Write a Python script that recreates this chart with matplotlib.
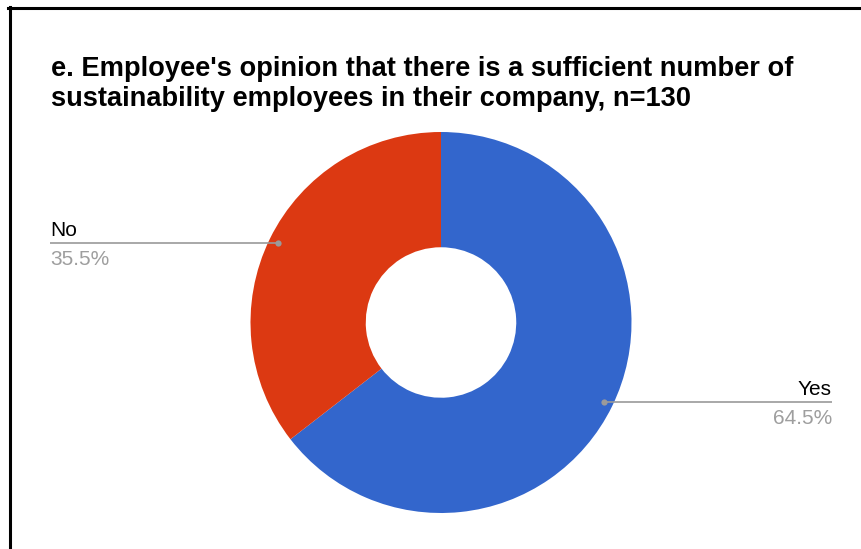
import numpy as np
import matplotlib
matplotlib.use("Agg")
import matplotlib.pyplot as plt
from matplotlib.lines import Line2D

# Survey answers
categories = ["Yes", "No"]
shares = [64.5, 35.5]
colors = ["#3366CC", "#DC3912"]
title = ("e. Employee's opinion that there is a sufficient number of\n"
         "sustainability employees in their company, n=130")

W, H = 861, 549
fig = plt.figure(figsize=(W / 100, H / 100), dpi=100)
fig.patch.set_facecolor("white")

# Axes spanning the whole figure, one data unit per pixel
ax = fig.add_axes([0, 0, 1, 1])
cx, cy, r = 441, H - 322.5, 190.5
wedges, _ = ax.pie(shares, colors=colors, startangle=90, counterclock=False,
                   center=(cx, cy), radius=r,
                   wedgeprops=dict(width=r * 0.605, linewidth=0))
ax.set_xlim(0, W)
ax.set_ylim(0, H)
ax.set_aspect("equal")
ax.axis("off")

font = "Liberation Sans"
line_col = "#9a9a9a"
pct_col = "#9e9e9e"
left_x, right_x = 50, 832

for w, cat, val in zip(wedges, categories, shares):
    mid = np.deg2rad((w.theta1 + w.theta2) / 2)
    px = cx + 0.95 * r * np.cos(mid)
    py = cy + 0.95 * r * np.sin(mid)
    if np.cos(mid) >= 0:
        ex, ha = right_x, "right"
    else:
        ex, ha = left_x, "left"
    ax.plot([px, ex], [py, py], color=line_col, lw=1.2, solid_capstyle="butt")
    ax.plot([px], [py], "o", color=line_col, ms=4.5, mec="none")
    ax.text(ex, py + 7, cat, ha=ha, va="baseline", fontsize=15,
            family=font, color="#000000")
    ax.text(ex, py - 22, f"{val}%", ha=ha, va="baseline", fontsize=15,
            family=font, color=pct_col)

# Title (anchored at the baseline of its second line)
fig.text(51 / W, 1 - 105.5 / H, title, ha="left", va="baseline", fontsize=19.6,
         fontweight="bold", family=font, color="#000000", linespacing=1.2)

# Frame lines along top and left edges
fig.add_artist(Line2D([8 / W, 1], [1 - 7.5 / H, 1 - 7.5 / H],
                      transform=fig.transFigure, color="black", lw=2.2))
fig.add_artist(Line2D([9.5 / W, 9.5 / W], [0, 1 - 6.5 / H],
                      transform=fig.transFigure, color="black", lw=2.2))

fig.savefig("out.png", dpi=100, facecolor="white")
